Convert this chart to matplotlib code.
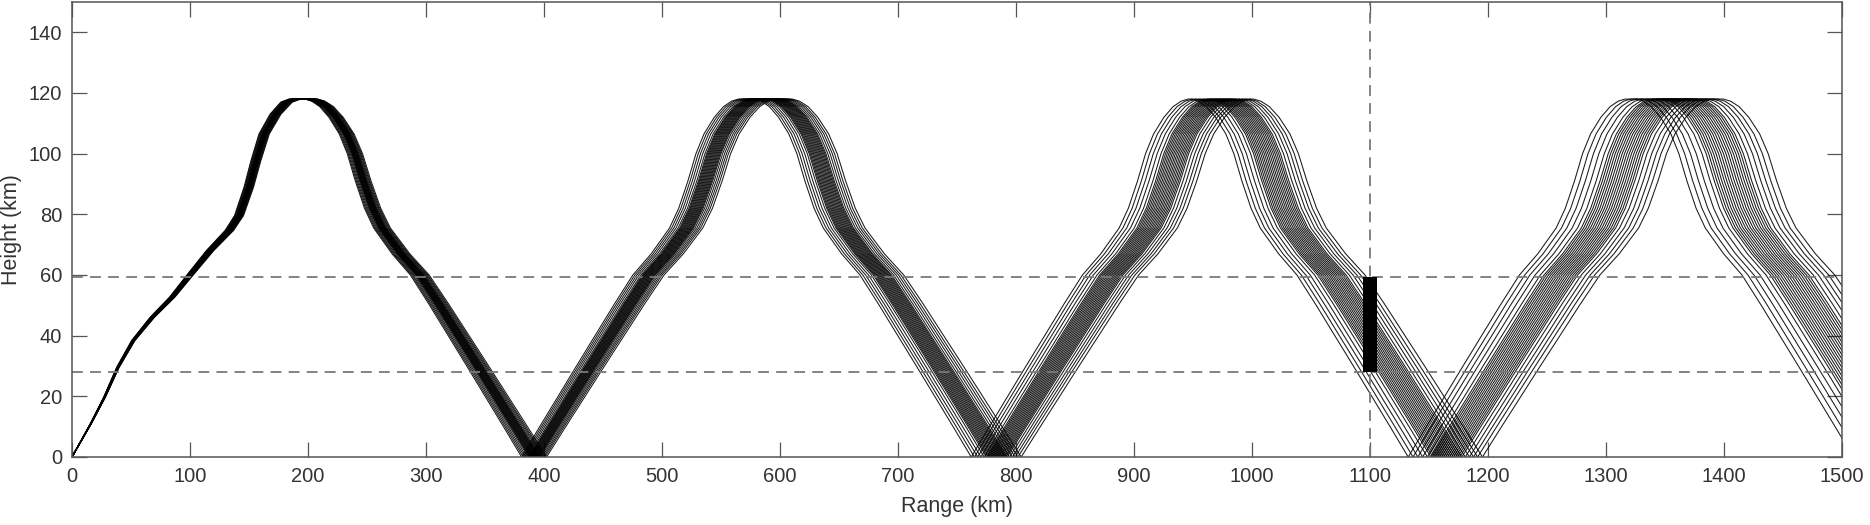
import numpy as np
import matplotlib.pyplot as plt

plt.rcParams['font.family'] = ['Liberation Sans', 'DejaVu Sans']

# first hop, climbing from the transmitter (range km, height km)
first_up_x = [0, 8, 16, 27.7, 39, 52, 68, 85, 101, 117, 133.5, 141.7, 150, 156, 163, 172.6, 182, 189]
first_up_h = [0, 5.5, 11, 19.8, 29.6, 38.4, 46, 52.7, 60.4, 68, 74.7, 79.6, 89, 97.7, 106.5, 113, 117, 118]
# descending leg, as distance before the ground point (km) and height (km);
# later hops climb along the mirror of it
leg_dist = [0, 15, 31, 47, 64, 81, 97, 113, 129, 137, 145, 152, 159, 168, 176, 183, 189]
leg_h = [0, 9.5, 19.5, 29.5, 40, 50.5, 60, 67, 75.5, 82, 91, 100, 106.5, 112, 115.5, 117.3, 118]
# ground points of the central ray (km)
ground_pts = [0, 392, 784, 1165, 1553]

# range stretch of each ray relative to the central one
ray_scale = [0.972, 0.9755, 0.979, 0.9825, 0.986,
             0.9885, 0.990, 0.9915, 0.993, 0.9945, 0.996, 0.9975, 0.999,
             1.0005, 1.002, 1.0035, 1.005, 1.0065, 1.008, 1.0095, 1.011,
             1.0135, 1.0165, 1.0195, 1.0225, 1.026]

# layer limits and receiver position
layer_heights = [28, 59.5]
rx_range = 1100
rx_bottom, rx_top = 28, 59.5

leg_dist = np.array(leg_dist)
leg_h = np.array(leg_h)
xs, hs = [], []
for k in range(len(ground_pts) - 1):
    g0, g1 = ground_pts[k], ground_pts[k + 1]
    if k == 0:
        xs.append(np.array(first_up_x, dtype=float))
        hs.append(np.array(first_up_h, dtype=float))
    else:
        xs.append(g0 + leg_dist)
        hs.append(leg_h)
    xs.append(g1 - leg_dist[::-1])
    hs.append(leg_h[::-1])
path_x = np.concatenate(xs)
path_h = np.concatenate(hs)

fig = plt.figure(figsize=(18.7, 5.25), dpi=100)
ax = fig.add_axes([72 / 1870, 1 - 457 / 525, (1842 - 72) / 1870, (457 - 2) / 525])

for s in ray_scale:
    ax.plot(path_x * s, path_h, color='black', linewidth=0.75, alpha=0.9)

for h in layer_heights:
    ax.axhline(h, color='#7a7a7a', linewidth=1.3, dashes=(6, 4))
ax.axvline(rx_range, color='#7a7a7a', linewidth=1.3, dashes=(6, 4))
ax.bar(rx_range, rx_top - rx_bottom, bottom=rx_bottom, width=12, color='black', zorder=3)

ax.set_xlim(0, 1500)
ax.set_ylim(0, 150)
ax.set_xticks(np.arange(0, 1501, 100))
ax.set_yticks(np.arange(0, 141, 20))
ax.tick_params(direction='in', length=11, width=0.9, top=True, right=True,
               color='#555555', labelcolor='#333333', labelsize=14.5, pad=7)
for sp in ax.spines.values():
    sp.set_color('#555555')
    sp.set_linewidth(1.1)

ax.set_xlabel('Range (km)', fontsize=15.5, color='#333333')
ax.set_ylabel('Height (km)', fontsize=15.5, color='#333333')
ax.xaxis.set_label_coords(0.5, -0.085)
ax.yaxis.set_label_coords(-0.028, 0.5)

fig.savefig('out.png', dpi=100)
